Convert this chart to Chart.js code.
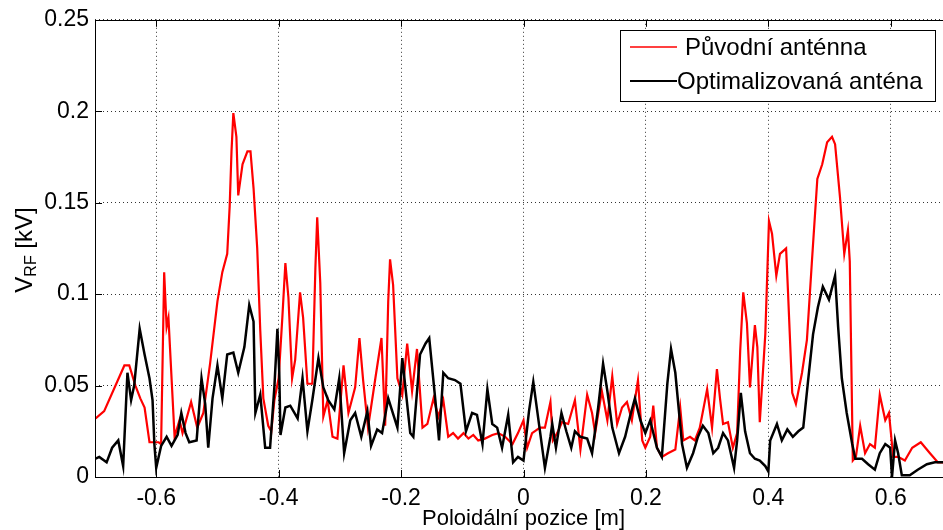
<!DOCTYPE html>
<html>
<head>
<meta charset="utf-8">
<script src="https://cdn.jsdelivr.net/npm/chart.js@4.4.1/dist/chart.umd.min.js"></script>
<style>
  html, body { margin: 0; padding: 0; background: #fff; overflow: hidden; }
  #wrap { width: 960px; height: 530px; }
</style>
</head>
<body>
<div id="wrap"><canvas id="vrfChart" width="960" height="530"></canvas></div>
<script>
// Poloidální pozice [m] / V_RF [kV]
const seriesNames = ['Původní anténna', 'Optimalizovaná anténa'];

const puvodniX = [-0.699,-0.685,-0.652,-0.644,-0.634,-0.626,-0.619,-0.611,-0.596,-0.592,
  -0.587,-0.583,-0.580,-0.570,-0.562,-0.557,-0.543,-0.533,-0.523,-0.512,
  -0.500,-0.492,-0.484,-0.480,-0.477,-0.474,-0.469,-0.466,-0.459,-0.451,
  -0.446,-0.441,-0.435,-0.430,-0.425,-0.417,-0.412,-0.407,-0.400,-0.394,
  -0.389,-0.384,-0.378,-0.373,-0.365,-0.360,-0.353,-0.345,-0.340,-0.337,
  -0.332,-0.327,-0.320,-0.312,-0.304,-0.294,-0.286,-0.275,-0.268,-0.262,
  -0.254,-0.242,-0.232,-0.226,-0.221,-0.218,-0.213,-0.206,-0.198,-0.190,
  -0.182,-0.174,-0.165,-0.157,-0.147,-0.139,-0.131,-0.123,-0.115,-0.107,
  -0.098,-0.090,-0.082,-0.074,-0.063,-0.051,-0.041,-0.030,-0.018,-0.009,
  0.000,0.006,0.014,0.027,0.035,0.044,0.048,0.055,0.063,0.073,
  0.084,0.093,0.104,0.112,0.117,0.128,0.137,0.145,0.153,0.161,
  0.169,0.177,0.187,0.194,0.199,0.207,0.212,0.218,0.226,0.236,
  0.248,0.256,0.261,0.272,0.280,0.288,0.300,0.308,0.316,0.321,
  0.326,0.334,0.342,0.349,0.354,0.359,0.365,0.370,0.378,0.382,
  0.386,0.395,0.401,0.406,0.413,0.419,0.429,0.432,0.439,0.445,
  0.455,0.463,0.471,0.480,0.488,0.496,0.504,0.509,0.517,0.524,
  0.530,0.533,0.538,0.543,0.550,0.558,0.566,0.574,0.582,0.591,
  0.597,0.604,0.612,0.623,0.635,0.649,0.664,0.677,0.685,0.700];
const puvodniY = [0.032,0.036,0.061,0.061,0.050,0.043,0.038,0.019,0.019,0.018,
  0.112,0.082,0.087,0.022,0.031,0.024,0.041,0.027,0.035,0.062,
  0.096,0.112,0.122,0.148,0.178,0.199,0.186,0.154,0.171,0.178,
  0.178,0.158,0.125,0.080,0.043,0.028,0.025,0.042,0.054,0.087,
  0.117,0.098,0.054,0.064,0.101,0.087,0.051,0.051,0.114,0.142,
  0.106,0.033,0.042,0.022,0.021,0.061,0.035,0.049,0.076,0.053,
  0.027,0.054,0.076,0.028,0.096,0.119,0.105,0.054,0.045,0.073,
  0.047,0.070,0.027,0.029,0.043,0.033,0.042,0.022,0.024,0.021,
  0.024,0.021,0.023,0.020,0.021,0.023,0.024,0.022,0.018,0.024,
  0.031,0.016,0.024,0.027,0.027,0.041,0.020,0.024,0.030,0.029,
  0.042,0.015,0.045,0.035,0.024,0.047,0.031,0.055,0.029,0.038,
  0.041,0.031,0.053,0.020,0.016,0.022,0.039,0.016,0.011,0.013,
  0.015,0.038,0.020,0.022,0.020,0.027,0.048,0.027,0.059,0.043,
  0.029,0.030,0.016,0.024,0.069,0.101,0.084,0.049,0.083,0.071,
  0.030,0.078,0.140,0.133,0.110,0.122,0.125,0.102,0.046,0.040,
  0.057,0.075,0.117,0.163,0.171,0.183,0.186,0.182,0.153,0.122,
  0.135,0.118,0.009,0.011,0.028,0.013,0.018,0.016,0.045,0.031,
  0.035,0.011,0.011,0.009,0.016,0.019,0.013,0.008,0.008,0.007];

const optimX = [-0.699,-0.693,-0.681,-0.672,-0.662,-0.654,-0.647,-0.641,-0.636,-0.627,
  -0.619,-0.611,-0.606,-0.603,-0.600,-0.592,-0.583,-0.575,-0.565,-0.559,
  -0.552,-0.546,-0.534,-0.526,-0.520,-0.515,-0.508,-0.500,-0.492,-0.484,
  -0.474,-0.466,-0.456,-0.448,-0.441,-0.438,-0.430,-0.422,-0.414,-0.407,
  -0.402,-0.399,-0.397,-0.389,-0.381,-0.369,-0.361,-0.353,-0.345,-0.335,
  -0.327,-0.319,-0.309,-0.301,-0.293,-0.283,-0.275,-0.265,-0.255,-0.249,
  -0.239,-0.231,-0.221,-0.206,-0.198,-0.185,-0.180,-0.169,-0.160,-0.154,
  -0.144,-0.138,-0.131,-0.123,-0.112,-0.103,-0.094,-0.084,-0.076,-0.067,
  -0.059,-0.051,-0.043,-0.035,-0.025,-0.017,-0.009,0.000,0.009,0.016,
  0.035,0.044,0.047,0.053,0.062,0.070,0.078,0.084,0.093,0.104,
  0.112,0.122,0.130,0.137,0.145,0.156,0.166,0.174,0.182,0.191,
  0.199,0.207,0.218,0.226,0.235,0.241,0.248,0.259,0.267,0.277,
  0.285,0.293,0.302,0.310,0.318,0.326,0.334,0.344,0.349,0.355,
  0.362,0.370,0.378,0.386,0.395,0.400,0.403,0.414,0.422,0.431,
  0.440,0.449,0.457,0.465,0.473,0.481,0.489,0.499,0.509,0.514,
  0.520,0.528,0.537,0.542,0.553,0.563,0.574,0.582,0.591,0.599,
  0.602,0.607,0.612,0.618,0.631,0.644,0.659,0.672,0.685,0.700];
const optimY = [0.010,0.011,0.008,0.016,0.020,0.006,0.057,0.042,0.050,0.081,
  0.067,0.054,0.042,0.018,0.005,0.017,0.022,0.017,0.023,0.035,
  0.024,0.019,0.020,0.054,0.040,0.016,0.043,0.061,0.043,0.067,
  0.068,0.057,0.071,0.094,0.085,0.035,0.045,0.016,0.016,0.049,
  0.081,0.057,0.023,0.038,0.039,0.032,0.054,0.025,0.042,0.065,
  0.049,0.042,0.037,0.054,0.013,0.031,0.035,0.022,0.036,0.017,
  0.026,0.024,0.043,0.027,0.065,0.024,0.022,0.067,0.073,0.076,
  0.042,0.020,0.057,0.054,0.053,0.051,0.025,0.035,0.034,0.018,
  0.048,0.029,0.027,0.016,0.034,0.008,0.011,0.009,0.036,0.052,
  0.005,0.022,0.029,0.016,0.035,0.025,0.016,0.025,0.022,0.021,
  0.013,0.038,0.062,0.047,0.027,0.013,0.022,0.033,0.043,0.031,
  0.024,0.031,0.016,0.011,0.051,0.070,0.057,0.018,0.005,0.013,
  0.022,0.028,0.024,0.013,0.016,0.024,0.020,0.005,0.020,0.046,
  0.025,0.013,0.010,0.009,0.006,0.003,0.020,0.029,0.020,0.026,
  0.022,0.025,0.027,0.053,0.078,0.093,0.104,0.097,0.110,0.082,
  0.054,0.035,0.018,0.010,0.010,0.007,0.004,0.013,0.018,0.016,
  0.000,0.020,0.013,0.001,0.001,0.004,0.007,0.008,0.008,0.008];

const xTicks = [-0.6, -0.4, -0.2, 0, 0.2, 0.4, 0.6];
const xTickLabels = ['-0.6', '-0.4', '-0.2', '0', '0.2', '0.4', '0.6'];
const yTicks = [0, 0.05, 0.1, 0.15, 0.2, 0.25];
const yTickLabels = ['0', '0.05', '0.1', '0.15', '0.2', '0.25'];

if (puvodniX.length !== puvodniY.length || optimX.length !== optimY.length) {
    throw new Error('length mismatch ' + puvodniX.length + '/' + puvodniY.length + ' ' + optimX.length + '/' + optimY.length);
}

const FONT = '"Liberation Sans", Arial, sans-serif';
const toPoints = (xs, ys) => xs.map((x, i) => ({ x, y: ys[i] }));

// frame, inward tick marks, axis titles and the boxed legend (MATLAB look)
const matlabDecor = {
    id: 'matlabDecor',
    afterDraw(chart) {
        const { ctx, chartArea: a, scales } = chart;
        const sx = scales.x, sy = scales.y;
        ctx.save();

        ctx.strokeStyle = '#000';
        ctx.lineWidth = 1;
        ctx.strokeRect(Math.round(a.left) + 0.5, Math.round(a.top) + 0.5, Math.round(a.right - a.left), Math.round(a.bottom - a.top));

        const tl = 7;
        ctx.beginPath();
        xTicks.forEach(v => {
            const px = Math.round(sx.getPixelForValue(v)) + 0.5;
            ctx.moveTo(px, a.bottom); ctx.lineTo(px, a.bottom - tl);
            ctx.moveTo(px, a.top); ctx.lineTo(px, a.top + tl);
        });
        yTicks.forEach(v => {
            const py = Math.round(sy.getPixelForValue(v)) + 0.5;
            ctx.moveTo(a.left, py); ctx.lineTo(a.left + tl, py);
            ctx.moveTo(a.right, py); ctx.lineTo(a.right - tl, py);
        });
        ctx.stroke();

        // x title
        ctx.fillStyle = '#000';
        ctx.font = '22px ' + FONT;
        ctx.textAlign = 'center';
        ctx.textBaseline = 'alphabetic';
        ctx.fillText('Poloidální pozice [m]', (a.left + a.right) / 2, 525);

        // y title with subscript, rotated
        const big = '24px ' + FONT, small = '16px ' + FONT;
        ctx.font = big; const wV = ctx.measureText('V').width; const wK = ctx.measureText(' [kV]').width;
        ctx.font = small; const wRF = ctx.measureText('RF').width;
        const total = wV + wRF + wK;
        ctx.translate(32, 250 + total / 2);
        ctx.rotate(-Math.PI / 2);
        ctx.textAlign = 'left';
        ctx.font = big; ctx.fillText('V', 0, 0);
        ctx.font = small; ctx.fillText('RF', wV, 4);
        ctx.font = big; ctx.fillText(' [kV]', wV + wRF, 0);
        ctx.setTransform(1, 0, 0, 1, 0, 0);

        // legend
        const box = { l: 620, t: 30, r: 935, b: 101 };
        ctx.fillStyle = '#fff';
        ctx.fillRect(box.l, box.t, box.r - box.l, box.b - box.t);
        ctx.strokeStyle = '#000';
        ctx.lineWidth = 1;
        ctx.strokeRect(box.l + 0.5, box.t + 0.5, box.r - box.l, box.b - box.t);

        const rows = [
            { y: 47, color: '#f00', w: 1.6, textX: 685, label: seriesNames[0] },
            { y: 81, color: '#000', w: 2, textX: 677, label: seriesNames[1] }
        ];
        ctx.font = '24px ' + FONT;
        ctx.textBaseline = 'middle';
        rows.forEach(r => {
            ctx.strokeStyle = r.color;
            ctx.lineWidth = r.w;
            ctx.beginPath();
            ctx.moveTo(630, r.y); ctx.lineTo(677, r.y);
            ctx.stroke();
            ctx.fillStyle = '#000';
            ctx.fillText(r.label, r.textX, r.y + 1);
        });
        ctx.restore();
    }
};

const gridStyle = { color: 'rgba(0,0,0,0.8)', lineWidth: 1, drawTicks: false };

new Chart(document.getElementById('vrfChart'), {
    type: 'line',
    data: {
        datasets: [
            {
                label: seriesNames[0],
                data: toPoints(puvodniX, puvodniY),
                borderColor: '#f00',
                borderWidth: 2.2,
                pointRadius: 0,
                tension: 0,
                order: 2
            },
            {
                label: seriesNames[1],
                data: toPoints(optimX, optimY),
                borderColor: '#000',
                borderWidth: 2.5,
                pointRadius: 0,
                tension: 0,
                order: 1
            }
        ]
    },
    options: {
        responsive: false,
        animation: false,
        devicePixelRatio: 1,
        layout: { padding: { left: 0, top: 18, right: 8, bottom: 0 } },
        plugins: { legend: { display: false }, tooltip: { enabled: false } },
        scales: {
            x: {
                type: 'linear',
                min: -0.7,
                max: 0.7,
                afterBuildTicks: (s) => { s.ticks = xTicks.map(v => ({ value: v })); },
                afterFit: (s) => { s.height = 53; },
                grid: gridStyle,
                border: { display: false, dash: [1, 3] },
                ticks: {
                    padding: 8,
                    color: '#000',
                    font: { family: FONT, size: 23 },
                    maxRotation: 0,
                    callback: (v, i) => xTickLabels[i]
                }
            },
            y: {
                min: 0,
                max: 0.25,
                afterBuildTicks: (s) => { s.ticks = yTicks.map(v => ({ value: v })); },
                afterFit: (s) => { s.width = 95; },
                grid: gridStyle,
                border: { display: false, dash: [1, 3] },
                ticks: {
                    padding: 6,
                    color: '#000',
                    font: { family: FONT, size: 23 },
                    callback: (v, i) => yTickLabels[i]
                }
            }
        }
    },
    plugins: [matlabDecor]
});
</script>
</body>
</html>
